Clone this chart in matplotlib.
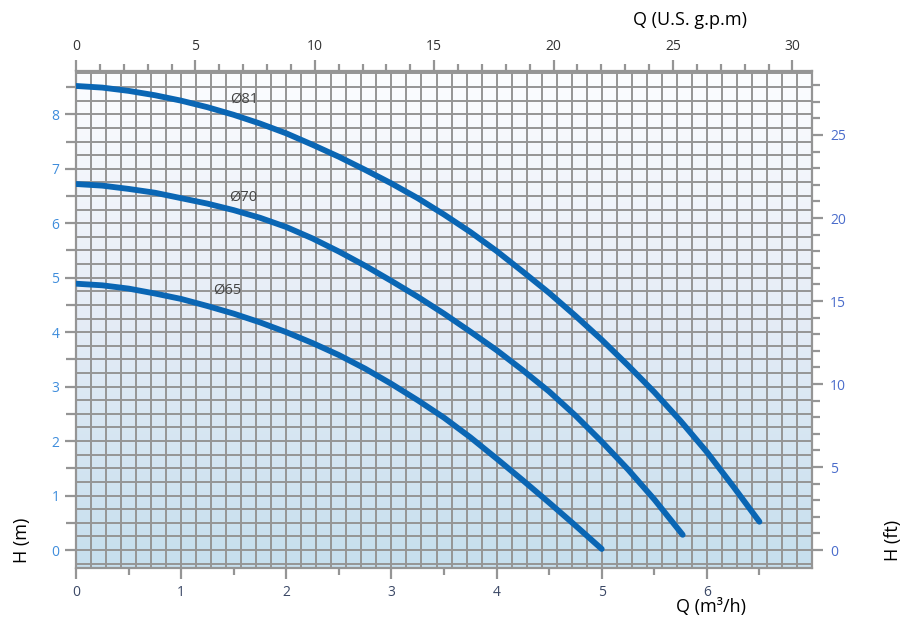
import numpy as np
import matplotlib
matplotlib.use("Agg")
import matplotlib.pyplot as plt
from matplotlib.colors import LinearSegmentedColormap

plt.rcParams['font.family'] = ['Open Sans', 'DejaVu Sans']

# Curvas de la bomba: caudal Q (m3/h) y altura H (m)
q_81 = [0.0, 0.25, 0.5, 0.75, 1.0, 1.25, 1.5, 1.75, 2.0, 2.25, 2.5, 2.75, 3.0, 3.25,
        3.5, 3.75, 4.0, 4.25, 4.5, 4.75, 5.0, 5.25, 5.5, 5.75, 6.0, 6.25, 6.5]
h_81 = [8.52, 8.49, 8.43, 8.35, 8.25, 8.13, 7.99, 7.83, 7.65, 7.44, 7.22, 6.98, 6.73, 6.46,
        6.16, 5.84, 5.49, 5.11, 4.72, 4.30, 3.86, 3.39, 2.90, 2.37, 1.80, 1.17, 0.52]

q_70 = [0.0, 0.25, 0.5, 0.75, 1.0, 1.25, 1.5, 1.75, 2.0, 2.25, 2.5, 2.75, 3.0, 3.25,
        3.5, 3.75, 4.0, 4.25, 4.5, 4.75, 5.0, 5.25, 5.5, 5.77]
h_70 = [6.72, 6.69, 6.63, 6.56, 6.46, 6.36, 6.24, 6.10, 5.93, 5.72, 5.48, 5.22, 4.94, 4.65,
        4.34, 4.01, 3.67, 3.30, 2.91, 2.47, 1.99, 1.48, 0.93, 0.28]

q_65 = [0.0, 0.25, 0.5, 0.75, 1.0, 1.25, 1.5, 1.75, 2.0, 2.25, 2.5, 2.75, 3.0, 3.25,
        3.5, 3.75, 4.0, 4.25, 4.5, 4.75, 5.0]
h_65 = [4.89, 4.86, 4.80, 4.71, 4.61, 4.48, 4.34, 4.18, 4.00, 3.80, 3.58, 3.33, 3.05, 2.75,
        2.43, 2.07, 1.68, 1.28, 0.87, 0.45, 0.02]

etiquetas = ['Ø81', 'Ø70', 'Ø65']
pos_etiquetas = [(1.60, 8.27), (1.59, 6.48), (1.44, 4.77)]

M3H_A_GPM = 4.4029
M_A_FT = 3.28084

AZUL = '#0a66b4'
GRIS = '#959595'

fig = plt.figure(figsize=(9.17, 6.28), dpi=100)
ax = fig.add_axes([0.0829, 0.0955, 0.8026, 0.7919])
xmin, xmax, ymin, ymax = 0, 7, -0.33, 8.8
ax.set_xlim(xmin, xmax)
ax.set_ylim(ymin, ymax)

# fondo degradado blanco -> azul claro
cmap = LinearSegmentedColormap.from_list('fondo', [(0.0, '#c6dfee'), (0.5, '#e5ecf6'), (1.0, '#fcfdff')])
grad = np.linspace(0, 1, 256).reshape(-1, 1)
ax.imshow(grad, cmap=cmap, origin='lower', aspect='auto',
          extent=[xmin, xmax, ymin, ymax], zorder=0)

# cuadricula
for xv in np.arange(0, 7.001, 1 / 7):
    ax.axvline(xv, color=GRIS, lw=1.4, zorder=1)
for yv in np.arange(-0.25, 8.8, 0.25):
    ax.axhline(yv, color=GRIS, lw=1.4, zorder=1)

for q, h in [(q_81, h_81), (q_70, h_70), (q_65, h_65)]:
    ax.plot(q, h, color=AZUL, lw=4.2, solid_capstyle='round',
            solid_joinstyle='round', zorder=3)

for txt, (x, y) in zip(etiquetas, pos_etiquetas):
    ax.text(x, y, txt, fontsize=10.5, color='#444444', ha='center', va='center', zorder=4)

for s in ax.spines.values():
    s.set_color(GRIS)
    s.set_linewidth(1.6)

ax.set_xticks(range(0, 7))
ax.set_xticks(np.arange(0.5, 7, 1.0), minor=True)
ax.set_yticks(range(0, 9))
ax.set_yticks(np.arange(0.5, 8.6, 1.0), minor=True)
ax.tick_params(axis='x', which='major', length=8, width=1.6, color=GRIS,
               labelsize=10, labelcolor='#3b4866', pad=4)
ax.tick_params(axis='x', which='minor', length=5, width=1.6, color=GRIS)
ax.tick_params(axis='y', which='major', length=8, width=1.6, color=GRIS,
               labelsize=10, labelcolor='#3f8ddc', pad=4)
ax.tick_params(axis='y', which='minor', length=7, width=1.6, color=GRIS)

# eje superior en galones US por minuto
top = ax.secondary_xaxis('top', functions=(lambda x: x * M3H_A_GPM, lambda x: x / M3H_A_GPM))
top.set_xticks(range(0, 31, 5))
top.set_xticks(range(0, 31, 1), minor=True)
top.tick_params(which='major', length=8, width=1.6, color=GRIS,
                labelsize=10, labelcolor='#333333', pad=4)
top.tick_params(which='minor', length=5, width=1.6, color=GRIS)
top.spines['top'].set_visible(False)

# eje derecho en pies
der = ax.secondary_yaxis('right', functions=(lambda y: y * M_A_FT, lambda y: y / M_A_FT))
der.set_yticks(range(0, 26, 5))
der.set_yticks(range(0, 29, 1), minor=True)
der.tick_params(which='major', length=8, width=1.6, color=GRIS,
                labelsize=10, labelcolor='#4a6ccb', pad=5)
der.tick_params(which='minor', length=6, width=1.6, color=GRIS)
der.spines['right'].set_visible(False)

fig.text(0.024, 0.14, 'H (m)', rotation=90, fontsize=13, ha='center', va='center')
fig.text(0.974, 0.14, 'H (ft)', rotation=90, fontsize=13, ha='center', va='center')
fig.text(0.775, 0.033, 'Q (m³/h)', fontsize=13, ha='center', va='center')
fig.text(0.752, 0.968, 'Q (U.S. g.p.m)', fontsize=13, ha='center', va='center')

fig.savefig('out.png', dpi=100)
